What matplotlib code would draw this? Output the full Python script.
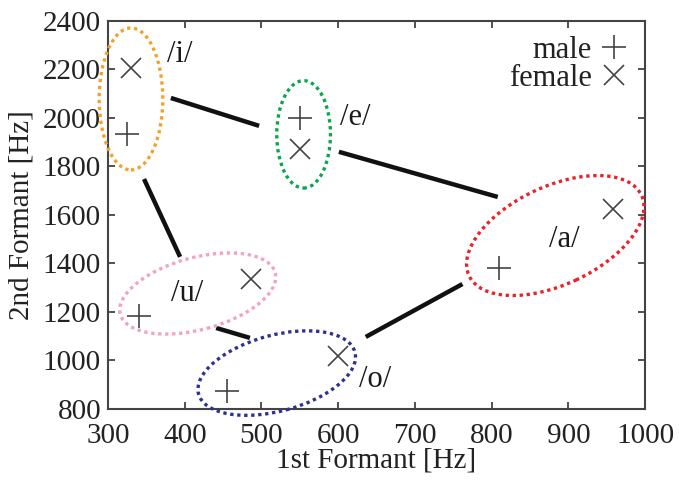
import numpy as np
import matplotlib
matplotlib.use("Agg")
import matplotlib.pyplot as plt
from matplotlib.patches import Ellipse
from matplotlib.transforms import Affine2D

plt.rcParams['font.family'] = ['Liberation Serif', 'DejaVu Serif']

# formant values [Hz]
vowels = ["/i/", "/e/", "/a/", "/u/", "/o/"]
male_f1 = [325, 550, 810, 340, 455]
male_f2 = [1935, 2000, 1380, 1185, 875]
female_f1 = [330, 550, 958, 487, 600]
female_f2 = [2205, 1870, 1625, 1335, 1020]

# ellipses round each vowel: centre (Hz), width/height (in 1st-formant Hz), tilt (deg on screen)
ell_cx = [330, 555, 883, 417, 520]
ell_cy = [2078, 1932, 1515, 1276, 948]
ell_w = [83, 70, 248, 209, 211]
ell_h = [185, 140, 128, 94, 99]
ell_ang = [0, 0, 25, 15, 15]
ell_col = ["#f2a22c", "#0aa64c", "#ec2127", "#f3a3c2", "#2b3390"]

# vowel labels
lab_x = [394, 622, 895, 403, 648]
lab_y = [2262, 2000, 1497, 1278, 920]

# connecting lines (start/end in Hz)
seg_x0 = [382, 601, 347, 441, 636]
seg_y0 = [2082, 1860, 1748, 1134, 1097]
seg_x1 = [497, 808, 394, 485, 762]
seg_y1 = [1967, 1674, 1427, 1093, 1315]

fig = plt.figure(figsize=(6.79, 4.84), dpi=100)
ax = fig.add_axes([0.159, 0.155, 0.791, 0.802])
ax.set_xlim(300, 1000)
ax.set_ylim(800, 2400)

# y scale factor so ellipses can be drawn with a true on-screen tilt
bb = ax.get_position()
k = (1600 / (bb.height * 484)) / (700 / (bb.width * 679))
tr = Affine2D().scale(1, k) + ax.transData

for i in range(len(vowels)):
    e = Ellipse((ell_cx[i], ell_cy[i] / k), ell_w[i], ell_h[i], angle=ell_ang[i],
                transform=tr, fill=False, edgecolor=ell_col[i], lw=2.4,
                linestyle=(0, (1, 1.1)), clip_on=False, zorder=3)
    ax.add_patch(e)

for i in range(len(seg_x0)):
    ax.plot([seg_x0[i], seg_x1[i]], [seg_y0[i], seg_y1[i]], color="#111111", lw=3.2,
            solid_capstyle="butt")

m = ax.plot(male_f1, male_f2, ls="none", marker="+", ms=17, mew=1.2, color="#444444",
            label="male")[0]
f = ax.plot(female_f1, female_f2, ls="none", marker="x", ms=14, mew=1.2, color="#444444",
            label="female")[0]

for i in range(len(vowels)):
    ax.text(lab_x[i], lab_y[i], vowels[i], fontsize=22, ha="center", va="center",
            color="#1a1a1a")

ax.legend(handles=[m, f], loc="upper right", markerfirst=False, frameon=False,
          fontsize=22, handlelength=1.0, handletextpad=0.25, labelspacing=-0.05,
          borderaxespad=0.2, borderpad=0.3, labelcolor="#222222")

ax.set_xticks(np.arange(300, 1001, 100))
ax.set_yticks(np.arange(800, 2401, 200))
ax.tick_params(direction="in", length=5, width=1.2, top=True, right=True,
               labelsize=21, colors="#333333", labelcolor="#222222")
ax.tick_params(axis="x", pad=10)
ax.tick_params(axis="y", pad=5)
for s in ax.spines.values():
    s.set_linewidth(1.5)
    s.set_color("#444444")
ax.set_xlabel("1st Formant [Hz]", fontsize=21, color="#222222", labelpad=-1)
ax.set_ylabel("2nd Formant [Hz]", fontsize=21, color="#222222", labelpad=6)

fig.savefig("out.png", dpi=100)
